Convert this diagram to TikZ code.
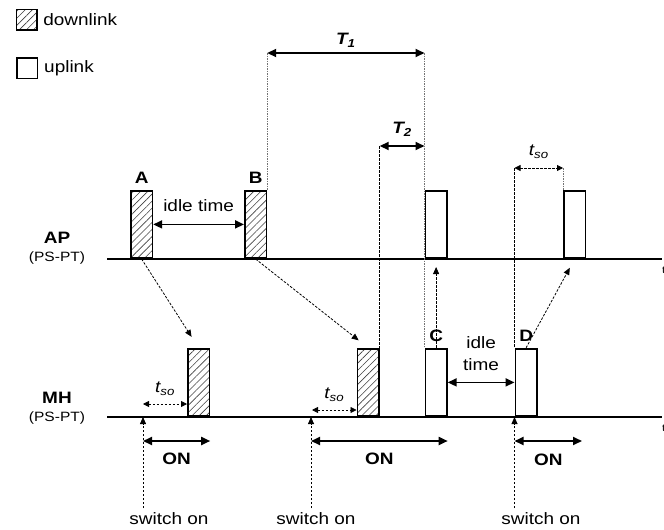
\documentclass[tikz,border=0pt]{standalone}
\usepackage{fontspec}
\setmainfont{Liberation Sans}[FakeStretch=1.15]
\usetikzlibrary{arrows.meta, positioning, patterns.meta}

\begin{document}
\begin{tikzpicture}[
    x=1pt, y=-1pt,
    font=\fontsize{16.5}{18}\selectfont,
    txt/.style={inner sep=0pt},
    lbl/.style={inner sep=0pt, font=\fontsize{16.5}{18}\selectfont\bfseries},
    sub/.style={inner sep=0pt, font=\fontsize{13.5}{15}\selectfont},
    axis/.style={line width=1.2pt},
    ulbox/.style={rectangle, draw, line width=1.7pt, inner sep=0pt,
                  minimum width=21.5pt, minimum height=67.5pt, anchor=south west},
    dlbox/.style={ulbox, pattern={Lines[angle=45, distance=5pt, line width=0.6pt]},
                  pattern color=black!75},
    keybox/.style={rectangle, draw, line width=1.5pt, inner sep=0pt,
                   minimum width=20.5pt, minimum height=20.5pt, anchor=north west},
    dimarr/.style={{Triangle[length=9pt,width=8pt]}-{Triangle[length=9pt,width=8pt]}, line width=1.8pt},
    tsoarr/.style={{Triangle[length=6pt,width=6pt]}-{Triangle[length=6pt,width=6pt]},
                   line width=0.8pt, dash pattern=on 2.5pt off 1.5pt},
    darr/.style={-{Triangle[length=7pt,width=6pt]}, line width=0.8pt, dash pattern=on 2.5pt off 1.5pt},
    dline/.style={line width=0.8pt, dash pattern=on 2.5pt off 1.5pt},
    gline/.style={line width=1pt, draw=black!55, dash pattern=on 1.5pt off 1pt}
]
\useasboundingbox (0,0) rectangle (664,530);

\node[keybox, pattern={Lines[angle=45, distance=5pt, line width=0.6pt]}, pattern color=black!75] (kdl) at (16,9) {};
\node[txt, right=6pt of kdl] (tdl) {downlink};
\node[keybox] (kul) at (16,57) {};
\node[txt, right=6pt of kul] (tul) {uplink};

\node[lbl] (ap) at (57,238) {AP};
\node[sub, below=8pt of ap] (appt) {(PS-PT)};
\node[lbl] (mh) at (57,398) {MH};
\node[sub, below=8pt of mh] (mhpt) {(PS-PT)};

\coordinate (apl) at (107,259);
\coordinate (apr) at (662,259);
\coordinate (mhl) at (107,417);
\coordinate (mhr) at (662,417);
\draw[axis] (apl) -- (apr);
\draw[axis] (mhl) -- (mhr);
\node[txt, anchor=west, font=\fontsize{10}{12}\selectfont] (tap) at (662,270) {t};
\node[txt, anchor=west, font=\fontsize{10}{12}\selectfont] (tmh) at (662,428) {t};

\node[dlbox] (A)    at (130,259) {};
\node[dlbox] (B)    at (244,259) {};
\node[ulbox] (apu1) at (424.5,259) {};
\node[ulbox] (apu2) at (563,259) {};
\node[dlbox] (mhd1) at (187,417) {};
\node[dlbox] (mhd2) at (356.5,417) {};
\node[ulbox] (C)    at (424.5,417) {};
\node[ulbox] (D)    at (514.5,417) {};

\node[lbl, above=6pt of A] (labA) {A};
\node[lbl, above=6pt of B] (labB) {B};
\node[lbl, above=6pt of C] (labC) {C};
\node[lbl, above=6pt of D] (labD) {D};

\draw[dimarr] (A.east) -- node[txt, above=12pt] (lidle1) {idle time} (B.west);
\draw[dimarr] (C.east) -- node[txt, above=11pt, align=center, font=\fontsize{16.5}{22}\selectfont] (lidle2) {idle\\time} (D.west);

\coordinate (t1b) at (424.5,53);
\coordinate (t1a) at (B.north east |- t1b);
\draw[gline] (t1a) -- (B.north east);
\draw[gline] (t1b) -- (C.north west);
\draw[dimarr] (t1a) -- node[txt, above=5pt] (lT1) {\bfseries\itshape T\textsubscript{1}} (t1b);

\coordinate (t2b) at (424.5,146);
\coordinate (t2a) at (mhd2.north east |- t2b);
\draw[dline] (t2a) -- (mhd2.north east);
\draw[dimarr] (t2a) -- node[txt, above=9pt] (lT2) {\bfseries\itshape T\textsubscript{2}} (t2b);

\coordinate (so3) at (514.5,168);
\draw[dline] (so3) -- (D.north west);
\draw[gline] (apu2.north west |- so3) -- (apu2.north west);
\draw[tsoarr] (so3) -- node[txt, above=9pt] (ltso3) {\itshape t\textsubscript{so}} (apu2.north west |- so3);

\coordinate (so1) at (143,404);
\draw[tsoarr] (so1) -- node[txt, above=8pt] (ltso1) {\itshape t\textsubscript{so}} (mhd1.west |- so1);
\coordinate (so2) at (312,410);
\draw[tsoarr] (so2) -- node[txt, above=8pt] (ltso2) {\itshape t\textsubscript{so}} (mhd2.west |- so2);

\draw[darr, shorten >=13pt] (A.south) -- (mhd1.north);
\draw[darr, shorten >=12pt] (B.south) -- (mhd2.north);
\draw[darr, shorten >=8pt] (C.north) -- (apu1.south);
\draw[darr, shorten >=10pt] (D.north) -- (apu2.south);

\coordinate (s1) at (143,508);
\coordinate (s2) at (311,508);
\coordinate (s3) at (514.5,508);
\draw[darr] (s1) -- (s1 |- mhl);
\draw[darr] (s2) -- (s2 |- mhl);
\draw[darr] (s3) -- (D.south west);
\node[txt] (lsw1) at (169,519) {switch on};
\node[txt] (lsw2) at (316,519) {switch on};
\node[txt] (lsw3) at (541,519) {switch on};

\coordinate (on1a) at (143,441);
\coordinate (on2a) at (311,441);
\coordinate (on3a) at (514.5,441);
\coordinate (on3b) at (582,441);
\draw[dimarr] (on1a) -- node[lbl, below=11pt] (lon1) {ON} (mhd1.east |- on1a);
\draw[dimarr] (on2a) -- node[lbl, below=11pt] (lon2) {ON} (C.east |- on2a);
\draw[dimarr] (on3a) -- node[lbl, below=12pt] (lon3) {ON} (on3b);
\end{tikzpicture}
\end{document}
